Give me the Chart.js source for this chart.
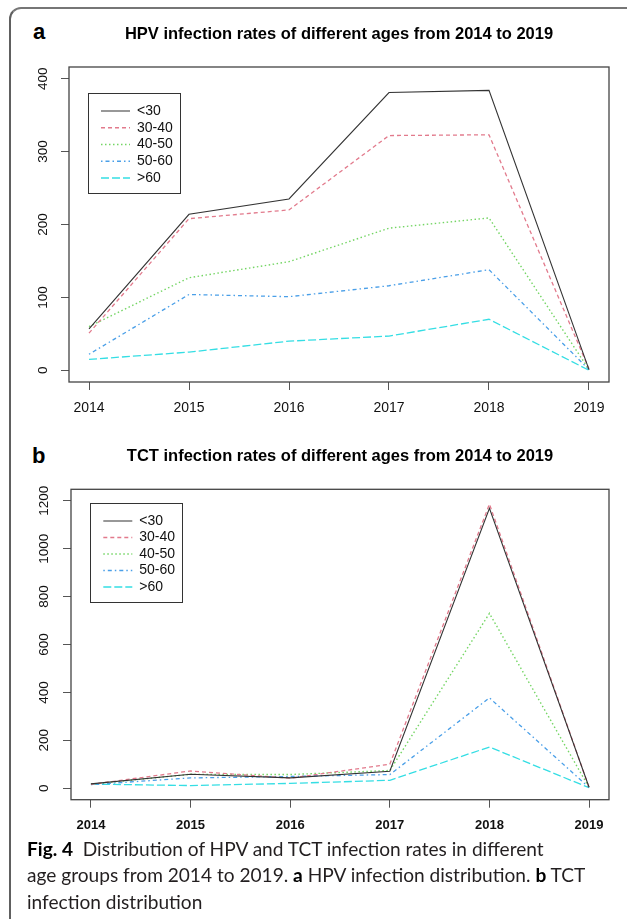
<!DOCTYPE html>
<html>
<head>
<meta charset="utf-8">
<script src="https://cdn.jsdelivr.net/npm/chart.js@4/dist/chart.umd.min.js"></script>
<style>
  html, body { margin: 0; padding: 0; background: #fff; overflow: hidden; }
  body { width: 627px; height: 919px; position: relative; }
  .frame {
    position: absolute; left: 9px; top: 7px; width: 700px; height: 950px;
    border-top: 2px solid #767676; border-left: 2px solid #606060;
    border-top-left-radius: 12px;
  }
  canvas { position: absolute; left: 0; }
  .tag { position: absolute; font: bold 22px "Liberation Sans", Arial, sans-serif; color: #000; }
  .caption {
    position: absolute; left: 27px; top: 836px; width: 600px;
    font: 19.1px Lato, "Open Sans", sans-serif; line-height: 26.3px; color: #231f20;
  }
  .caption b { color: #000; }
</style>
</head>
<body>
<div class="frame"></div>
<div class="tag" style="left:33px;top:19px;">a</div>
<div class="tag" style="left:32px;top:443px;">b</div>
<canvas id="graficoA" width="627" height="440" style="top:0"></canvas>
<canvas id="graficoB" width="627" height="400" style="top:440px"></canvas>
<div class="caption"><b>Fig. 4</b>&nbsp; Distribution of HPV and TCT infection rates in different<br>age groups from 2014 to 2019. <b>a</b> HPV infection distribution. <b>b</b> TCT<br>infection distribution</div>
<script>
// Dados =====================================================================

const years = [2014, 2015, 2016, 2017, 2018, 2019];
const groups = ["<30", "30-40", "40-50", "50-60", ">60"];

// HPV (a)
const hpvLt30 = [57, 214, 235, 381, 384, 1];
const hpv3040 = [51, 208, 220, 322, 323, 2];
const hpv4050 = [60, 127, 149, 195, 209, 1];
const hpv5060 = [22, 104, 101, 116, 138, 1];
const hpvGt60 = [15, 25, 40, 47, 70, 0];
const hpvTicks = [0, 100, 200, 300, 400];

// TCT (b)
const tctLt30 = [18, 58, 43, 71, 1169, 4];
const tct3040 = [16, 72, 42, 100, 1186, 3];
const tct4050 = [17, 58, 57, 74, 730, 3];
const tct5060 = [15, 43, 49, 57, 377, 3];
const tctGt60 = [17, 11, 20, 33, 172, 2];
const tctTicks = [0, 200, 400, 600, 800, 1000, 1200];

// Estilos (R: lty 1..5, cores suavizadas como no original)
const colors = ["#333333", "#e27a8c", "#74d564", "#4a9fe8", "#35dee4"];
const dashes = [[], [4, 3], [1.5, 2.5], [1.5, 3, 4, 3], [8, 3]];
const widths = [1.1, 1.3, 1.4, 1.3, 1.3];

Chart.defaults.font.family = "'Liberation Sans', Arial, sans-serif";
Chart.defaults.font.size = 13;
Chart.defaults.color = "#111";

function buildDatasets(series) {
  return series.map((vals, i) => ({
    label: groups[i],
    data: years.map((yr, j) => ({ x: yr, y: vals[j] })),
    borderColor: colors[i],
    backgroundColor: colors[i],
    borderDash: dashes[i],
    borderWidth: widths[i],
    pointRadius: 0,
    tension: 0,
  }));
}

// legenda com traço igual ao da linha
function legendLabels(chart) {
  const items = Chart.defaults.plugins.legend.labels.generateLabels(chart);
  items.forEach((it) => {
    const ds = chart.data.datasets[it.datasetIndex];
    it.lineDash = ds.borderDash;
    it.strokeStyle = ds.borderColor;
    it.lineWidth = ds.borderWidth;
  });
  return items;
}

// caixa do gráfico + moldura da legenda (estilo R)
const rBox = {
  id: "rBox",
  afterLayout(chart, args, opts) {
    const lg = chart.legend;
    lg.left = opts.legendX;
    lg.top = opts.legendY;
  },
  beforeDraw(chart, args, opts) {
    const ctx = chart.ctx;
    const b = opts.frame;
    ctx.save();
    ctx.fillStyle = "#fff";
    ctx.strokeStyle = "#333";
    ctx.lineWidth = 1;
    ctx.fillRect(b[0], b[1], b[2], b[3]);
    ctx.strokeRect(b[0] + 0.5, b[1] + 0.5, b[2], b[3]);
    ctx.restore();
  },
  afterDraw(chart) {
    const a = chart.chartArea;
    const ctx = chart.ctx;
    ctx.save();
    ctx.strokeStyle = "#444";
    ctx.lineWidth = 1.3;
    ctx.strokeRect(a.left, a.top, a.right - a.left, a.bottom - a.top);
    ctx.restore();
  },
};

function makeConfig(p) {
  return {
    type: "line",
    data: { datasets: buildDatasets(p.series) },
    options: {
      responsive: false,
      animation: false,
      devicePixelRatio: 1,
      layout: { padding: { left: 0, right: 18, top: 0, bottom: 0 } },
      plugins: {
        title: {
          display: true,
          text: p.title,
          fullSize: false,
          font: { size: 16.5, weight: "bold" },
          color: "#000",
          padding: { top: p.titleTop, bottom: p.titleBottom },
        },
        legend: {
          position: "chartArea",
          align: "start",
          labels: {
            usePointStyle: true,
            pointStyle: "line",
            pointStyleWidth: 29,
            boxHeight: 13,
            padding: p.legendPad,
            font: { size: 14 },
            color: "#111",
            generateLabels: legendLabels,
          },
        },
        tooltip: { enabled: false },
        rBox: { legendX: p.legendX, legendY: p.legendY, frame: p.legendFrame },
      },
      scales: {
        x: {
          type: "linear",
          min: 2013.8,
          max: 2019.2,
          afterBuildTicks: (s) => { s.ticks = years.map((v) => ({ value: v })); },
          afterFit: (s) => { s.height = p.xHeight; },
          grid: { drawOnChartArea: false, drawTicks: true, tickLength: 8, color: "#555" },
          border: { display: false },
          ticks: {
            padding: p.xPad,
            font: { size: p.xSize, weight: p.xBold ? "bold" : "normal" },
            color: "#111",
            maxRotation: 0,
            callback: (v) => String(v),
          },
        },
        y: {
          min: p.yMin,
          max: p.yMax,
          afterBuildTicks: (s) => { s.ticks = p.yTicks.map((v) => ({ value: v })); },
          afterFit: (s) => { s.width = p.yWidth; },
          grid: { drawOnChartArea: false, drawTicks: true, tickLength: 8, color: "#555" },
          border: { display: false },
          ticks: {
            minRotation: 90,
            maxRotation: 90,
            crossAlign: "center",
            padding: p.yPad,
            font: { size: 13.5 },
            color: "#111",
            callback: (v) => String(v),
          },
        },
      },
    },
    plugins: [rBox],
  };
}

// Gráfico a =====================================================================

const configA = makeConfig({
  series: [hpvLt30, hpv3040, hpv4050, hpv5060, hpvGt60],
  title: "HPV infection rates of different ages from 2014 to 2019",
  titleTop: 24.1,
  titleBottom: 23.1,
  xHeight: 58,
  xPad: 9.5,
  xSize: 14,
  xBold: false,
  yMin: -16,
  yMax: 416,
  yTicks: hpvTicks,
  yWidth: 69,
  yPad: 6.7,
  legendPad: 2.75,
  legendX: 98.25,
  legendY: 101.25,
  legendFrame: [88, 93, 92, 100],
});

// Gráfico b =====================================================================

const configB = makeConfig({
  series: [tctLt30, tct3040, tct4050, tct5060, tctGt60],
  title: "TCT infection rates of different ages from 2014 to 2019",
  titleTop: 6.8,
  titleBottom: 22.7,
  xHeight: 40.3,
  xPad: 9.5,
  xSize: 13,
  xBold: true,
  yMin: -48,
  yMax: 1248,
  yTicks: tctTicks,
  yWidth: 71,
  yPad: 4,
  legendPad: 2.5,
  legendX: 100.8,
  legendY: 71.5,
  legendFrame: [90, 63, 92, 99],
});

const graficoA = new Chart(document.getElementById("graficoA"), configA);
const graficoB = new Chart(document.getElementById("graficoB"), configB);
</script>
</body>
</html>
